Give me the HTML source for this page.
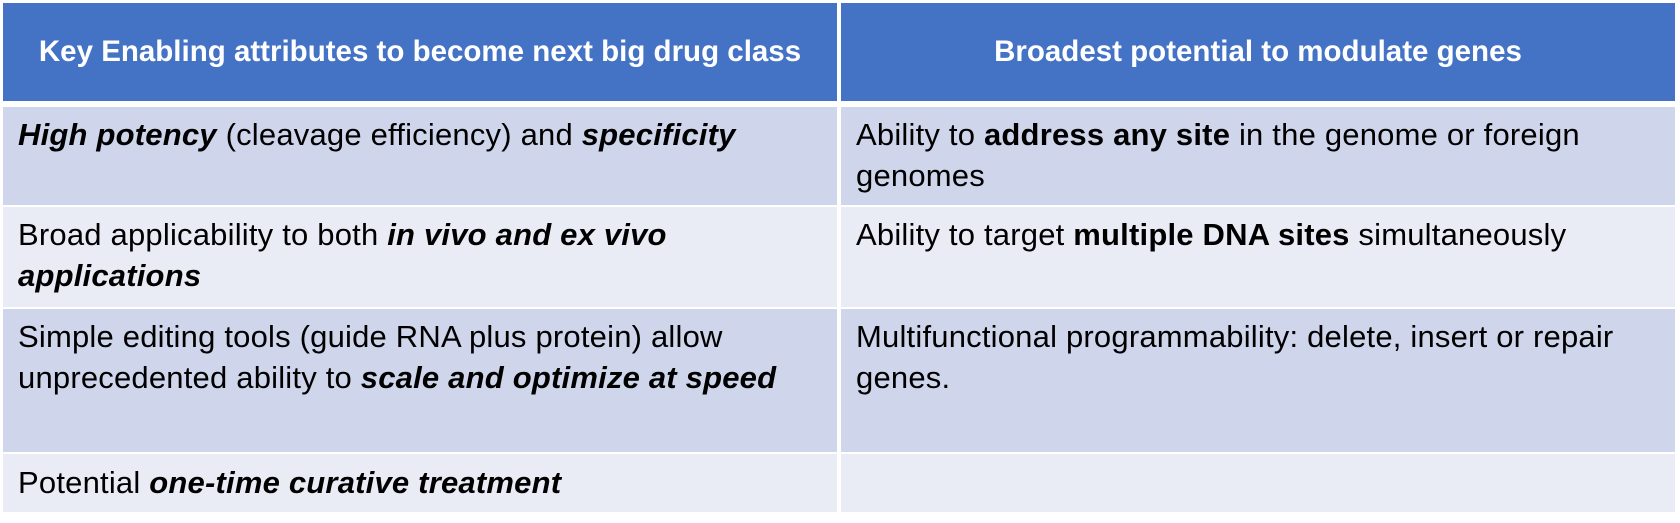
<!DOCTYPE html>
<html><head><style>
body{margin:0;width:1680px;height:523px;background:#fff;position:relative;overflow:hidden;font-family:"Liberation Sans",Arial,sans-serif;}
.c{position:absolute;box-sizing:border-box;padding:7px 0 0 15px;font-size:31px;line-height:41px;letter-spacing:0.2px;color:#000;white-space:nowrap;}
.h{background:#4472c4;color:#fff;font-weight:bold;text-align:center;padding:0;line-height:98px;font-size:29.5px;letter-spacing:0;}
.a{background:#cfd5ea}.b{background:#e9ebf5}
</style></head><body>
<div class="c h" style="left:3px;top:3px;width:834px;height:98px">Key Enabling attributes to become next big drug class</div>
<div class="c h" style="left:841px;top:3px;width:834px;height:98px">Broadest potential to modulate genes</div>

<div class="c a" style="left:3px;top:107px;width:834px;height:98px"><b><i>High potency</i></b> (cleavage efficiency) and <b><i>specificity</i></b></div>
<div class="c a" style="left:841px;top:107px;width:834px;height:98px">Ability to <b>address any site</b> in the genome or foreign<br>genomes</div>

<div class="c b" style="left:3px;top:207px;width:834px;height:100px">Broad applicability to both <b><i>in vivo and ex vivo<br>applications</i></b></div>
<div class="c b" style="left:841px;top:207px;width:834px;height:100px">Ability to target <b>multiple DNA sites</b> simultaneously</div>

<div class="c a" style="left:3px;top:309px;width:834px;height:143px">Simple editing tools (guide RNA plus protein) allow<br>unprecedented ability to <b><i>scale and optimize at speed</i></b></div>
<div class="c a" style="left:841px;top:309px;width:834px;height:143px">Multifunctional programmability: delete, insert or repair<br>genes.</div>

<div class="c b" style="left:3px;top:454px;width:834px;height:58px;padding-top:8px">Potential <b><i>one-time curative treatment</i></b></div>
<div class="c b" style="left:841px;top:454px;width:834px;height:58px"></div>
</body></html>
